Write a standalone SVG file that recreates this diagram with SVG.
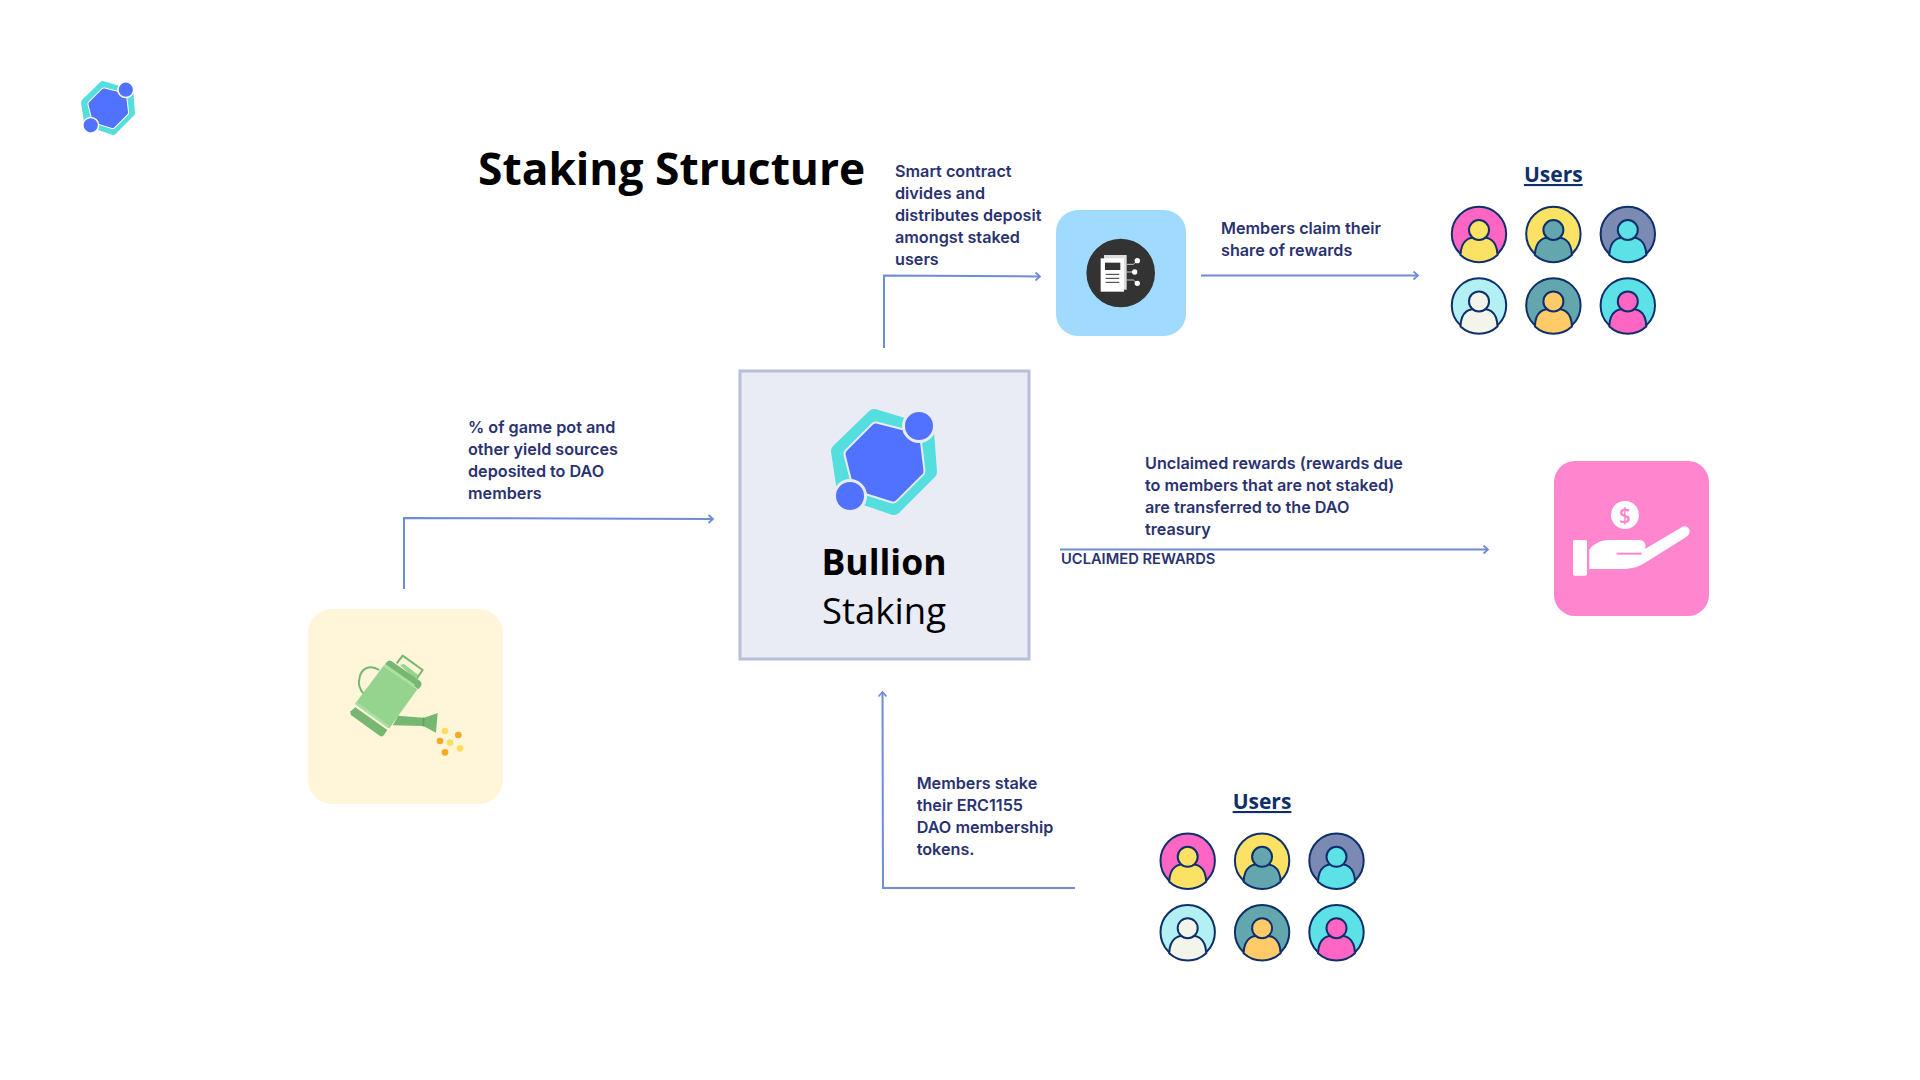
<svg xmlns="http://www.w3.org/2000/svg" xmlns:xlink="http://www.w3.org/1999/xlink" width="1920" height="1080" viewBox="0 0 1920 1080">
<style>
.lab{font-family:"Inter","Open Sans",sans-serif;font-weight:600;font-size:16.2px;fill:#2a3270}
.os{font-family:"Open Sans","Noto Sans",sans-serif;fill:#000}
.users{font-family:"Open Sans","Noto Sans",sans-serif;font-weight:700;font-size:21px;fill:#0f2f6b;text-decoration:underline;text-anchor:middle}
.conn{fill:none;stroke:#6f8dd6;stroke-width:2}
.av{stroke:#0f2f6b;stroke-width:2}
</style>
<defs>
<marker id="arr" markerUnits="userSpaceOnUse" markerWidth="12" markerHeight="12" refX="6" refY="5" orient="auto">
<path d="M1.5 1 L6 5 L1.5 9" fill="none" stroke="#6f8dd6" stroke-width="1.8"/>
</marker>
<symbol id="logo" overflow="visible" viewBox="-60 -60 120 120" width="120" height="120">
<polygon points="-10,-46 43,-30 46,10 10,46 -40,29 -46,-11" fill="#54dede" stroke="#54dede" stroke-width="14" stroke-linejoin="round"/>
<polygon points="-8,-34 31,-24 35,9 9,35 -26,24 -34,-8" fill="currentColor" stroke="currentColor" stroke-width="13" stroke-linejoin="round"/>
<polygon points="-8,-34 31,-24 35,9 9,35 -26,24 -34,-8" fill="#5172ff" stroke="#5172ff" stroke-width="9" stroke-linejoin="round"/>
<circle cx="35" cy="-36" r="15.500" fill="#5172ff" stroke="currentColor" stroke-width="3"/>
<circle cx="-34" cy="34" r="15.500" fill="#5172ff" stroke="currentColor" stroke-width="3"/>
</symbol>
<g id="avatars">
<g id="a1"><circle cx="0" cy="0" r="27.200" fill="#ff66c4" class="av"/><path d="M-18.500 21 C-18 5 -9 3 0 3 C9 3 18 5 18.500 21 A27.200 27.200 0 0 1 -18.500 21Z" fill="#fbe164" class="av"/><circle cx="0" cy="-4" r="10" fill="#fbe164" class="av"/></g>
<g transform="translate(74.400 0)"><circle r="27.200" fill="#fbe164" class="av"/><path d="M-18.500 21 C-18 5 -9 3 0 3 C9 3 18 5 18.500 21 A27.200 27.200 0 0 1 -18.500 21Z" fill="#64a6ad" class="av"/><circle cy="-4" r="10" fill="#64a6ad" class="av"/></g>
<g transform="translate(148.800 0)"><circle r="27.200" fill="#7a8ab3" class="av"/><path d="M-18.500 21 C-18 5 -9 3 0 3 C9 3 18 5 18.500 21 A27.200 27.200 0 0 1 -18.500 21Z" fill="#5ce1e6" class="av"/><circle cy="-4" r="10" fill="#5ce1e6" class="av"/></g>
<g transform="translate(0 71.400)"><circle r="27.200" fill="#b2f0f3" class="av"/><path d="M-18.500 21 C-18 5 -9 3 0 3 C9 3 18 5 18.500 21 A27.200 27.200 0 0 1 -18.500 21Z" fill="#f4f5ea" class="av"/><circle cy="-4" r="10" fill="#f4f5ea" class="av"/></g>
<g transform="translate(74.400 71.400)"><circle r="27.200" fill="#64a6ad" class="av"/><path d="M-18.500 21 C-18 5 -9 3 0 3 C9 3 18 5 18.500 21 A27.200 27.200 0 0 1 -18.500 21Z" fill="#ffcb69" class="av"/><circle cy="-4" r="10" fill="#ffcb69" class="av"/></g>
<g transform="translate(148.800 71.400)"><circle r="27.200" fill="#5ce1e6" class="av"/><path d="M-18.500 21 C-18 5 -9 3 0 3 C9 3 18 5 18.500 21 A27.200 27.200 0 0 1 -18.500 21Z" fill="#ff66c4" class="av"/><circle cy="-4" r="10" fill="#ff66c4" class="av"/></g>
</g>
</defs>
<rect width="1920" height="1080" fill="#fff"/>

<g id="brand-logo" color="#ffffff"><use href="#logo" xlink:href="#logo" x="77.500" y="77.500" width="61" height="61"/></g>
<text id="title" class="os" x="478" y="185" font-size="44.300" font-weight="700">Staking Structure</text>

<g id="connectors">
<path class="conn" marker-end="url(#arr)" d="M404 589 V518 L713 519"/>
<path class="conn" marker-end="url(#arr)" d="M884 348 V275.500 L1040 276.500"/>
<path class="conn" marker-end="url(#arr)" d="M1201 275.500 H1418"/>
<path class="conn" marker-end="url(#arr)" d="M1060 549.500 H1488"/>
<path class="conn" marker-end="url(#arr)" d="M1075 888 H883 L882.500 692"/>
</g>

<g id="staking-node">
<rect x="740" y="371" width="289" height="288" fill="#e9ebf5" stroke="#b7bfdb" stroke-width="3"/>
<g color="#e9ebf5"><use href="#logo" xlink:href="#logo" x="824" y="402" width="120" height="120"/></g>
<text class="os" x="884" y="575" font-size="35.500" font-weight="700" text-anchor="middle">Bullion</text>
<text class="os" x="884" y="624" font-size="36.500" text-anchor="middle">Staking</text>
</g>

<g id="watering-can">
<rect x="308" y="609" width="195" height="195" rx="24" fill="#fff5d8"/>
<g transform="translate(300 600) scale(.33333)">
<path d="M238 210 C210 192 185 205 179 232 C172 255 182 272 192 282" fill="none" stroke="#76b872" stroke-width="6"/>
<path d="M290 190 L308 167 L368 210 L350 236" fill="none" stroke="#76b872" stroke-width="6" stroke-linejoin="round"/>
<polygon points="300,195 312,192 355,225 345,238" fill="#94d48e"/>
<polygon points="295,347 370,353 370,378 278,376" fill="#76b872"/>
<polygon points="370,354 413,339 408,398 370,378" fill="#76b872"/>
<rect x="368" y="353" width="5" height="26" fill="#5fa25c"/>
<polygon points="250,198 352,268 268,385 165,312" fill="#94d48e"/>
<path d="M258 189 Q264 178 274 183 L360 243 Q368 250 362 260 L355 268 L254 197Z" fill="#76b872"/>
<polygon points="250,198 256,192 345,254 340,261" fill="#a9e0a2"/>
<path d="M152 334 Q148 340 154 346 L240 408 Q247 412 252 405 L262 390 L166 322Z" fill="#76b872"/>
<polygon points="165,312 170,306 268,377 263,384" fill="#a9e0a2"/>
<g fill="#fbdf5c"><circle cx="435" cy="393" r="10"/><circle cx="450" cy="428" r="10"/><circle cx="480" cy="445" r="10"/></g>
<g fill="#f9a826"><circle cx="475" cy="405" r="10"/><circle cx="420" cy="423" r="10"/><circle cx="435" cy="457" r="10"/></g>
</g>
</g>

<g id="distribution-node">
<rect x="1056" y="210" width="130" height="126" rx="22" fill="#a0dbff"/>
<circle cx="1120.700" cy="273" r="34.300" fill="#333"/>
<g transform="translate(1060 205) scale(.33333)">
<rect x="132" y="150" width="68" height="104" fill="#ddd"/>
<rect x="122" y="160" width="70" height="100" fill="#fff"/>
<rect x="135" y="173" width="46" height="22" fill="#333"/>
<path d="M137 208 H178 M137 220 H178 M137 232 H178" stroke="#333" stroke-width="3"/>
<path d="M200 178 H220 L232 168 M200 201 H224 M200 225 H220 L232 235" fill="none" stroke="#ccc" stroke-width="3"/>
<circle cx="232" cy="167" r="8" fill="#fff"/><circle cx="224" cy="201" r="8" fill="#fff"/><circle cx="232" cy="235" r="8" fill="#fff"/>
</g>
</g>

<g id="treasury-node">
<rect x="1554" y="461" width="155" height="155" rx="21" fill="#ff85cf"/>
<g transform="translate(1550 450) scale(.33333)">
<rect x="69" y="270" width="42" height="107" rx="5" fill="#fff"/>
<path d="M118 357 V300 C125 285 150 270 180 270 H265 C285 270 290 285 285 297 L395 232 C405 222 425 235 418 250 C415 258 410 260 405 263 L295 332 C270 350 245 357 215 357Z" fill="#fff"/>
<path d="M200 311 H275" stroke="#ff85cf" stroke-width="6"/>
<circle cx="225" cy="195" r="42" fill="#fff"/>
<text x="225" y="218" font-family="Open Sans,sans-serif" font-size="62" font-weight="600" text-anchor="middle" fill="#ff85cf">$</text>
</g>
</g>

<g id="users-top">
<text class="users" x="1553.300" y="182">Users</text>
<use href="#avatars" xlink:href="#avatars" x="1479" y="234"/>
</g>
<g id="users-bottom">
<text class="users" x="1262" y="809">Users</text>
<use href="#avatars" xlink:href="#avatars" x="1187.700" y="860.800"/>
</g>

<g id="labels">
<text class="lab"><tspan x="468" y="433">% of game pot and</tspan><tspan x="468" y="455">other yield sources</tspan><tspan x="468" y="477">deposited to DAO</tspan><tspan x="468" y="499">members</tspan></text>
<text class="lab"><tspan x="895" y="177">Smart contract</tspan><tspan x="895" y="199">divides and</tspan><tspan x="895" y="221">distributes deposit</tspan><tspan x="895" y="243">amongst staked</tspan><tspan x="895" y="265">users</tspan></text>
<text class="lab"><tspan x="1221" y="234">Members claim their</tspan><tspan x="1221" y="256">share of rewards</tspan></text>
<text class="lab"><tspan x="1145" y="469">Unclaimed rewards (rewards due</tspan><tspan x="1145" y="491">to members that are not staked)</tspan><tspan x="1145" y="513">are transferred to the DAO</tspan><tspan x="1145" y="535">treasury</tspan></text>
<text class="lab" x="1061" y="564" style="font-size:14.700px">UCLAIMED REWARDS</text>
<text class="lab"><tspan x="916.700" y="789">Members stake</tspan><tspan x="916.700" y="811">their ERC1155</tspan><tspan x="916.700" y="833">DAO membership</tspan><tspan x="916.700" y="855">tokens.</tspan></text>
</g>
</svg>
